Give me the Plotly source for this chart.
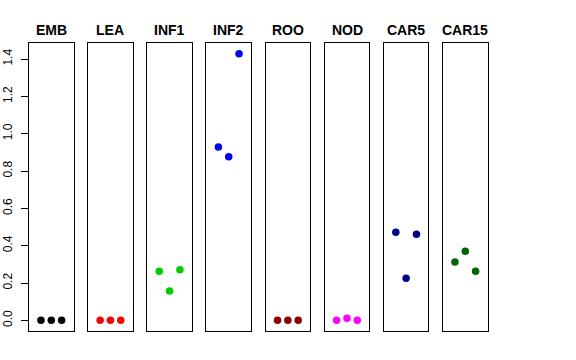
import plotly.graph_objects as go

categories = ["EMB", "LEA", "INF1", "INF2", "ROO", "NOD", "CAR5", "CAR15"]
positions = [1, 2, 3]
emb = [0.0, 0.0, 0.0]
lea = [0.0, 0.0, 0.0]
inf1 = [0.263, 0.157, 0.271]
inf2 = [0.929, 0.877, 1.429]
roo = [0.0, 0.0, 0.0]
nod = [0.0, 0.011, 0.0]
car5 = [0.472, 0.225, 0.461]
car15 = [0.312, 0.370, 0.263]
values = [emb, lea, inf1, inf2, roo, nod, car5, car15]
colors = ["#000000", "#FF0000", "#00CD00", "#0000FF", "#8B0000", "#FF00FF", "#00008B", "#006400"]
y_ticks = [0.0, 0.2, 0.4, 0.6, 0.8, 1.0, 1.2, 1.4]
y_ticktext = ["0.0", "0.2", "0.4", "0.6", "0.8", "1.0", "1.2", "1.4"]

W, H = 576, 360
ml, mt = 29, 43
pw = 459
ph = 288
mr = W - ml - pw
mb = H - mt - ph
step = 59.14
box_w = 44.6

fig = go.Figure()
font = "Liberation Sans, Arial, Helvetica, sans-serif"
layout = dict(
    width=W, height=H,
    margin=dict(l=ml, r=mr, t=mt, b=mb, pad=0, autoexpand=False),
    paper_bgcolor="white", plot_bgcolor="white",
    showlegend=False,
    font=dict(family=font, color="black"),
)
annotations = []
for i, (cat, vals, col) in enumerate(zip(categories, values, colors)):
    n = "" if i == 0 else str(i + 1)
    fig.add_trace(go.Scatter(
        x=positions, y=vals, mode="markers",
        marker=dict(color=col, size=7.5, line=dict(width=0)),
        xaxis="x" + n, yaxis="y" + n, hoverinfo="skip",
    ))
    d0 = i * step / pw
    d1 = (i * step + box_w) / pw
    layout["xaxis" + n] = dict(
        domain=[d0, min(d1, 1)], range=[-0.16, 4.16], showgrid=False, zeroline=False,
        showticklabels=False, ticks="", showline=True, mirror=True,
        linecolor="black", linewidth=1, anchor="y" + n, fixedrange=True,
        automargin=False,
    )
    ya = dict(
        range=[-0.0572, 1.486], showgrid=False, zeroline=False,
        showline=True, mirror=True, linecolor="black", linewidth=1,
        anchor="x" + n, fixedrange=True, automargin=False,
    )
    if i == 0:
        ya.update(tickmode="array", tickvals=y_ticks, ticktext=y_ticktext,
                  ticks="outside", ticklen=7, tickwidth=1, tickcolor="black",
                  ticklabelstandoff=4,
                  tickangle=-90, tickfont=dict(size=12, family=font, color="black"))
    else:
        ya.update(showticklabels=False, ticks="")
    layout["yaxis" + n] = ya
    annotations.append(dict(
        text="<b>" + cat + "</b>", x=(d0 + d1) / 2, xref="paper",
        y=1 + 13.5 / ph, yref="paper", xanchor="center", yanchor="middle",
        showarrow=False, font=dict(size=14, family=font, color="black"),
    ))
layout["annotations"] = annotations
fig.update_layout(**layout)
fig.write_html("out.html", config={"displayModeBar": False},
               post_script="document.body.style.margin='0';")
